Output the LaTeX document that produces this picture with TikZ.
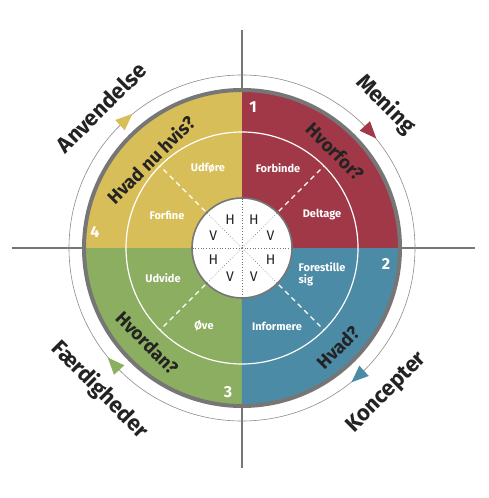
\documentclass[tikz,border=0pt]{standalone}
\usepackage{fontspec}
\setmainfont{Fira Sans}
\usetikzlibrary{calc}

\definecolor{quadred}{RGB}{161,56,71}
\definecolor{quadblue}{RGB}{76,139,165}
\definecolor{quadgreen}{RGB}{140,174,96}
\definecolor{quadyellow}{RGB}{216,190,88}
\definecolor{rimgray}{RGB}{118,118,118}
\definecolor{textdark}{RGB}{35,35,35}

\begin{document}
\begin{tikzpicture}[x=1pt,y=1pt,
    axisline/.style={draw=rimgray,line width=1.3pt},
    outertext/.style={font=\bfseries\fontsize{22}{22}\selectfont,text=textdark},
    ringtext/.style={font=\bfseries\fontsize{18.5}{18.5}\selectfont,text=textdark},
    innertext/.style={font=\bfseries\fontsize{11}{12}\selectfont,text=white,align=left,inner sep=0pt},
    numtext/.style={font=\bfseries\fontsize{16}{16}\selectfont,text=white,inner sep=0pt},
    hvtext/.style={font=\fontsize{14}{14}\selectfont,text=textdark,inner sep=0pt}]
    % frame of the picture
    \useasboundingbox (-242,-250) rectangle (246,248);

    % Axes
    \draw [axisline] (-230,0) -- (233,0);
    \draw [axisline] (0,218) -- (0,-220);

    % Shape: thin outer circle
    \draw [draw=black!45,line width=0.6pt] (0,0) circle (173);

    % Shape: quadrants
    \fill [quadred] (0,0) -- (0:158) arc (0:90:158) -- cycle;
    \fill [quadyellow] (0,0) -- (90:158) arc (90:180:158) -- cycle;
    \fill [quadgreen] (0,0) -- (180:158) arc (180:270:158) -- cycle;
    \fill [quadblue] (0,0) -- (270:158) arc (270:360:158) -- cycle;
    \draw [rimgray,line width=4pt] (0,0) circle (158);

    % Shape: inner white ring and dashed diagonals
    \draw [white,line width=1.2pt] (0,0) circle (116);
    \foreach \a in {45,135,225,315}
      \draw [white,line width=1.1pt,dash pattern=on 5pt off 4pt] (\a:52) -- (\a:116);

    % Shape: centre circle
    \draw [rimgray,fill=white,line width=1.6pt] (0,0) circle (50);
    \foreach \a in {0,45,...,315}
      \draw [black!55,line width=0.7pt,dotted] (0,0) -- (\a:49);

    % Arrow heads on the thin circle (clockwise)
    \foreach \a/\c in {42.5/quadred,-47.5/quadblue,-137.5/quadgreen,132.5/quadyellow}
      \fill [\c,rotate=\a] (173,-10) -- (166,7) -- (180,7) -- cycle;

    % Text Node: outer labels
    \node [outertext,rotate=-45] (mening) at (45:203) {Mening};
    \node [outertext,rotate=45] (koncepter) at (-45:205) {Koncepter};
    \node [outertext,rotate=-45] (faerdigheder) at (-135:201) {Færdigheder};
    \node [outertext,rotate=45] (anvendelse) at (135:199) {Anvendelse};

    % Text Node: ring questions
    \node [ringtext,rotate=-45] (hvorfor) at (46:134) {Hvorfor?};
    \node [ringtext,rotate=45] (hvad) at (-46:138) {Hvad?};
    \node [ringtext,rotate=-45] (hvordan) at (-135:134) {Hvordan?};
    \node [ringtext,rotate=45] (hvadnu) at (136:127) {Hvad nu hvis?};

    % Text Node: numbers
    \node [numtext] (n1) at (11,141) {1};
    \node [numtext] (n2) at (144,-16) {2};
    \node [numtext] (n3) at (-14,-144) {3};
    \node [numtext] (n4) at (-147,16) {4};

    % Text Node: inner labels
    \node [innertext] (forbinde) at (36,80) {Forbinde};
    \node [innertext] (deltage) at (80,33) {Deltage};
    \node [innertext] (forestille) at (80,-26) {Forestille\\sig};
    \node [innertext] (informere) at (35,-78) {Informere};
    \node [innertext] (oeve) at (-38,-78) {Øve};
    \node [innertext] (udvide) at (-79,-30) {Udvide};
    \node [innertext] (forfine) at (-75,33) {Forfine};
    \node [innertext] (udfoere) at (-34,80) {Udføre};

    % Text Node: H and V in the centre
    \foreach \a/\l in {22.5/V,67.5/H,112.5/H,157.5/V,202.5/H,247.5/V,292.5/V,337.5/H}
      \node [hvtext] (hv\a) at (\a:31) {\l};
\end{tikzpicture}
\end{document}
